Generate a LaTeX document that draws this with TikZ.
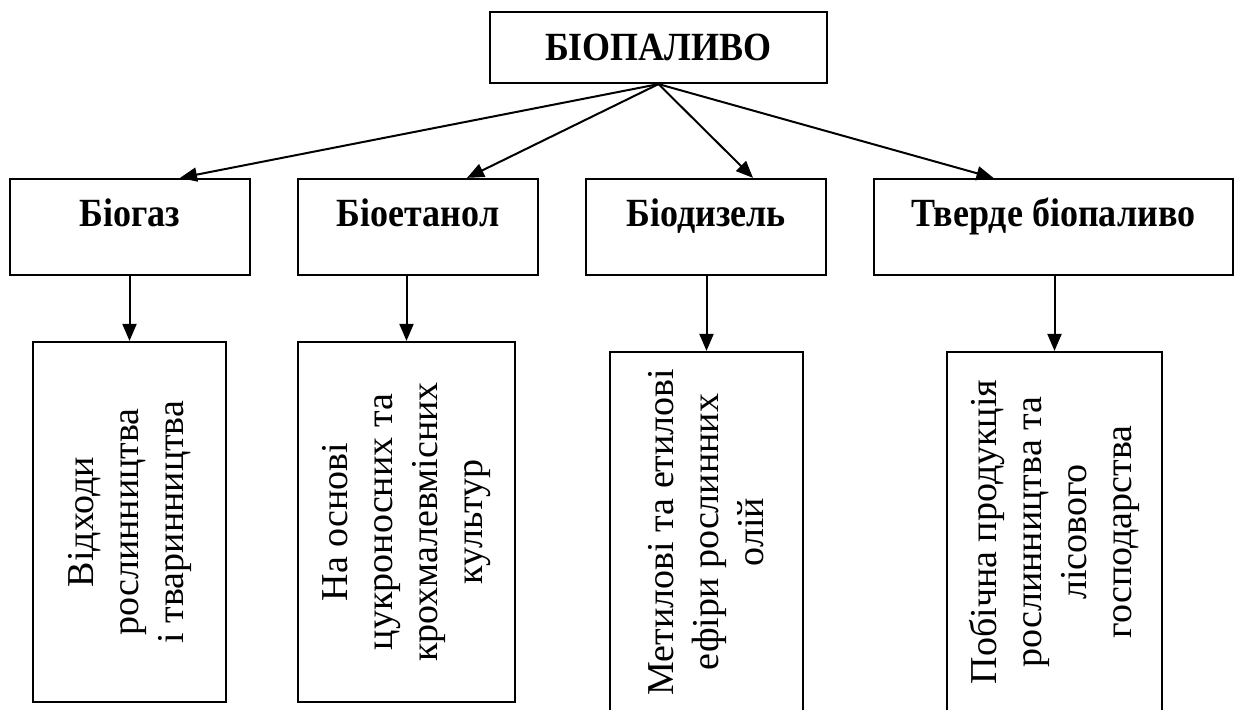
\documentclass[tikz,border=0pt]{standalone}
\usepackage{fontspec}
\setmainfont{Liberation Serif}
\newfontfamily\headfont[FakeStretch=0.9]{Liberation Serif}
\usetikzlibrary{arrows.meta}

\begin{document}
\begin{tikzpicture}[x=0.5pt, y=-0.5pt, font=\fontsize{19pt}{22.5pt}\selectfont,
    box/.style={draw, line width=1.1pt, inner sep=0pt},
    kind/.style={box, font=\headfont\fontsize{20pt}{24pt}\selectfont\bfseries, minimum width=120pt, text height=24pt, text depth=24pt},
    src/.style={box, rotate=90, align=center, minimum width=180pt},
    arr/.style={-{Triangle[length=8.5pt, width=7pt]}, line width=1pt}]
    \clip (0,0) rectangle (1235,710);

    \node[box, font=\headfont\fontsize{20pt}{24pt}\selectfont\bfseries, minimum width=168.5pt, minimum height=35.5pt] (0) at (658.5,47.5) {БІОПАЛИВО};

    \node[kind] (1) at (130,227) {Біогаз};
    \node[kind] (2) at (418,227) {Біоетанол};
    \node[kind] (3) at (706,227) {Біодизель};
    \node[kind, minimum width=179.5pt] (4) at (1053.5,227) {Тверде біопаливо};

    \node[src, minimum height=96.5pt] (5) at (129.5,522) {Відходи\\рослинництва\\і тваринництва};
    \node[src, minimum height=108.5pt] (6) at (406.5,522) {На основі\\цукроносних та\\крохмалевмісних\\культур};
    \node[src, minimum height=96.5pt] (7) at (706.5,532) {Метилові та етилові\\ефіри рослинних\\олій};
    \node[src, minimum height=107.5pt] (8) at (1054.5,532) {Побічна продукція\\рослинництва та\\лісового\\господарства};

    \draw[arr] (0.south) -- ([xshift=25pt]1.north);
    \draw[arr] (0.south) -- ([xshift=24.5pt]2.north);
    \draw[arr] (0.south) -- ([xshift=23.5pt]3.north);
    \draw[arr] (0.south) -- ([xshift=-30pt]4.north);

    \draw[arr] (1.south -| 5.east) -- (5.east);
    \draw[arr] (2.south -| 6.east) -- (6.east);
    \draw[arr] (3.south -| 7.east) -- (7.east);
    \draw[arr] (4.south -| 8.east) -- (8.east);
\end{tikzpicture}
\end{document}
